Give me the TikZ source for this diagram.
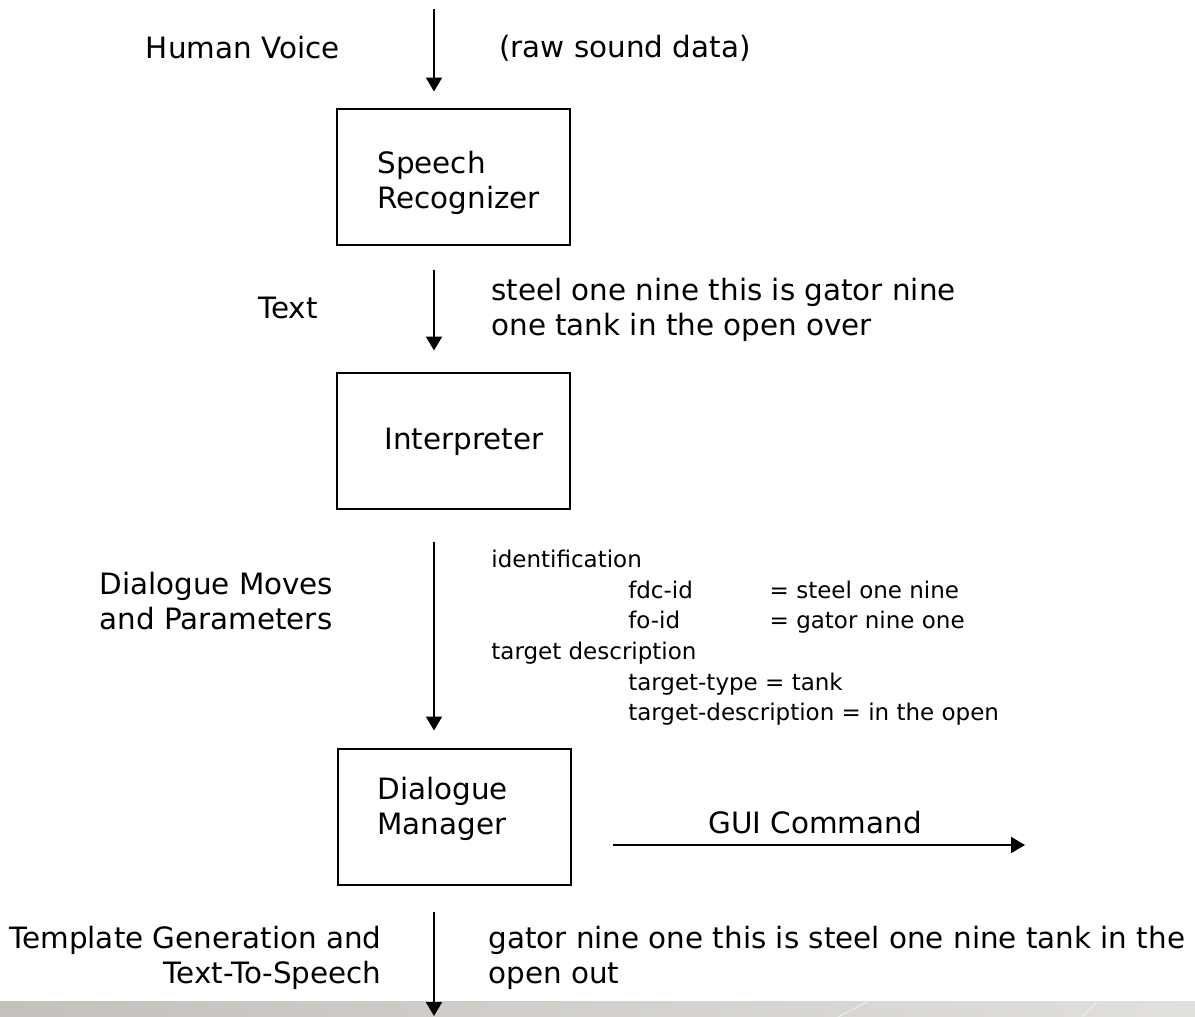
\documentclass[tikz,border=0pt]{standalone}
\usepackage{fontspec}
\setmainfont{DejaVu Sans}
\usetikzlibrary{arrows.meta,positioning}
\definecolor{stripleft}{RGB}{196,193,189}
\definecolor{stripmid}{RGB}{172,167,162}
\definecolor{stripright}{RGB}{226,224,220}

\begin{document}
\begin{tikzpicture}[x=0.5pt,y=-0.5pt,>={Triangle[length=7pt,width=8pt]},
  font=\fontsize{14.7}{17.5}\selectfont,
  box/.style={draw,line width=1pt,minimum width=116.5pt,minimum height=68pt,inner sep=0pt},
  lbl/.style={inner sep=0pt,align=left},
  flow/.style={->,line width=1pt},
  small/.style={inner sep=0pt,font=\fontsize{11.5}{15.3}\selectfont}]
  \useasboundingbox (0,0) rectangle (1195,1017);
  % grey strip at the foot of the page
  \shade[left color=stripleft,middle color=stripmid,right color=stripright] (0,1001) rectangle (1195,1017);
  \draw[white!75!stripmid,line width=0.6pt] (838,1017) -- (869,1001);
  \draw[white!75!stripmid,line width=0.6pt] (1082,1017) -- (1098,1001);

  % the three stages
  \node[box] (sr) at (453.5,176.5) {};
  \node[box] (ip) at (453.5,440.5) {};
  \node[box] (dm) at (454.5,816.5) {};
  \node[lbl,anchor=west] (srtext) at (377,182.5) {Speech\\Recognizer};
  \node[lbl,anchor=west] (iptext) at (384,442) {Interpreter};
  \node[lbl,anchor=west] (dmtext) at (377,808.5) {Dialogue\\Manager};

  % data flow
  \coordinate (voice) at (434,9);
  \coordinate (speechout) at (434,1016);
  \coordinate (gui) at (1025,845);
  \draw[flow,shorten >=8pt] (voice) -- (voice |- sr.north);
  \draw[flow,shorten <=12pt,shorten >=10.5pt] (sr.south -| voice) -- (ip.north -| voice);
  \draw[flow,shorten <=16pt,shorten >=8.5pt] (ip.south -| voice) -- (dm.north -| voice);
  \draw[flow,shorten <=13pt] (dm.south -| voice) -- (speechout);
  \draw[flow,shorten <=20.5pt] (gui -| dm.east) -- (gui);

  % labels on the left
  \node[lbl,anchor=east] (voicelbl) at (340,48) {Human Voice};
  \node[lbl,anchor=east] (textlbl) at (318,308) {Text};
  \node[lbl,anchor=west] (moveslbl) at (99,601.5) {Dialogue Moves\\and Parameters};
  \node[lbl,anchor=east,align=right] (ttslbl) at (382,957.5) {Template Generation and\\Text-To-Speech};

  % sample data on the right
  \node[lbl,anchor=west] (rawlbl) at (499,48) {(raw sound data)};
  \node[lbl,anchor=west] (heard) at (491,310) {steel one nine this is gator nine\\one tank in the open over};
  \node[small,anchor=west] (moves) at (491,638) {%
    \begin{tabular}{@{}p{5.95em}@{}p{6.15em}@{}l@{}}
      \multicolumn{3}{@{}l@{}}{identification}\\
      & fdc-id & = steel one nine\\
      & fo-id & = gator nine one\\
      \multicolumn{3}{@{}l@{}}{target description}\\
      & \multicolumn{2}{@{}l@{}}{target-type = tank}\\
      & \multicolumn{2}{@{}l@{}}{target-description = in the open}
    \end{tabular}};
  \node[lbl] (guilbl) at (815,823) {GUI Command};
  \node[lbl,anchor=west] (reply) at (488,957.5) {gator nine one this is steel one nine tank in the\\open out};
\end{tikzpicture}
\end{document}
